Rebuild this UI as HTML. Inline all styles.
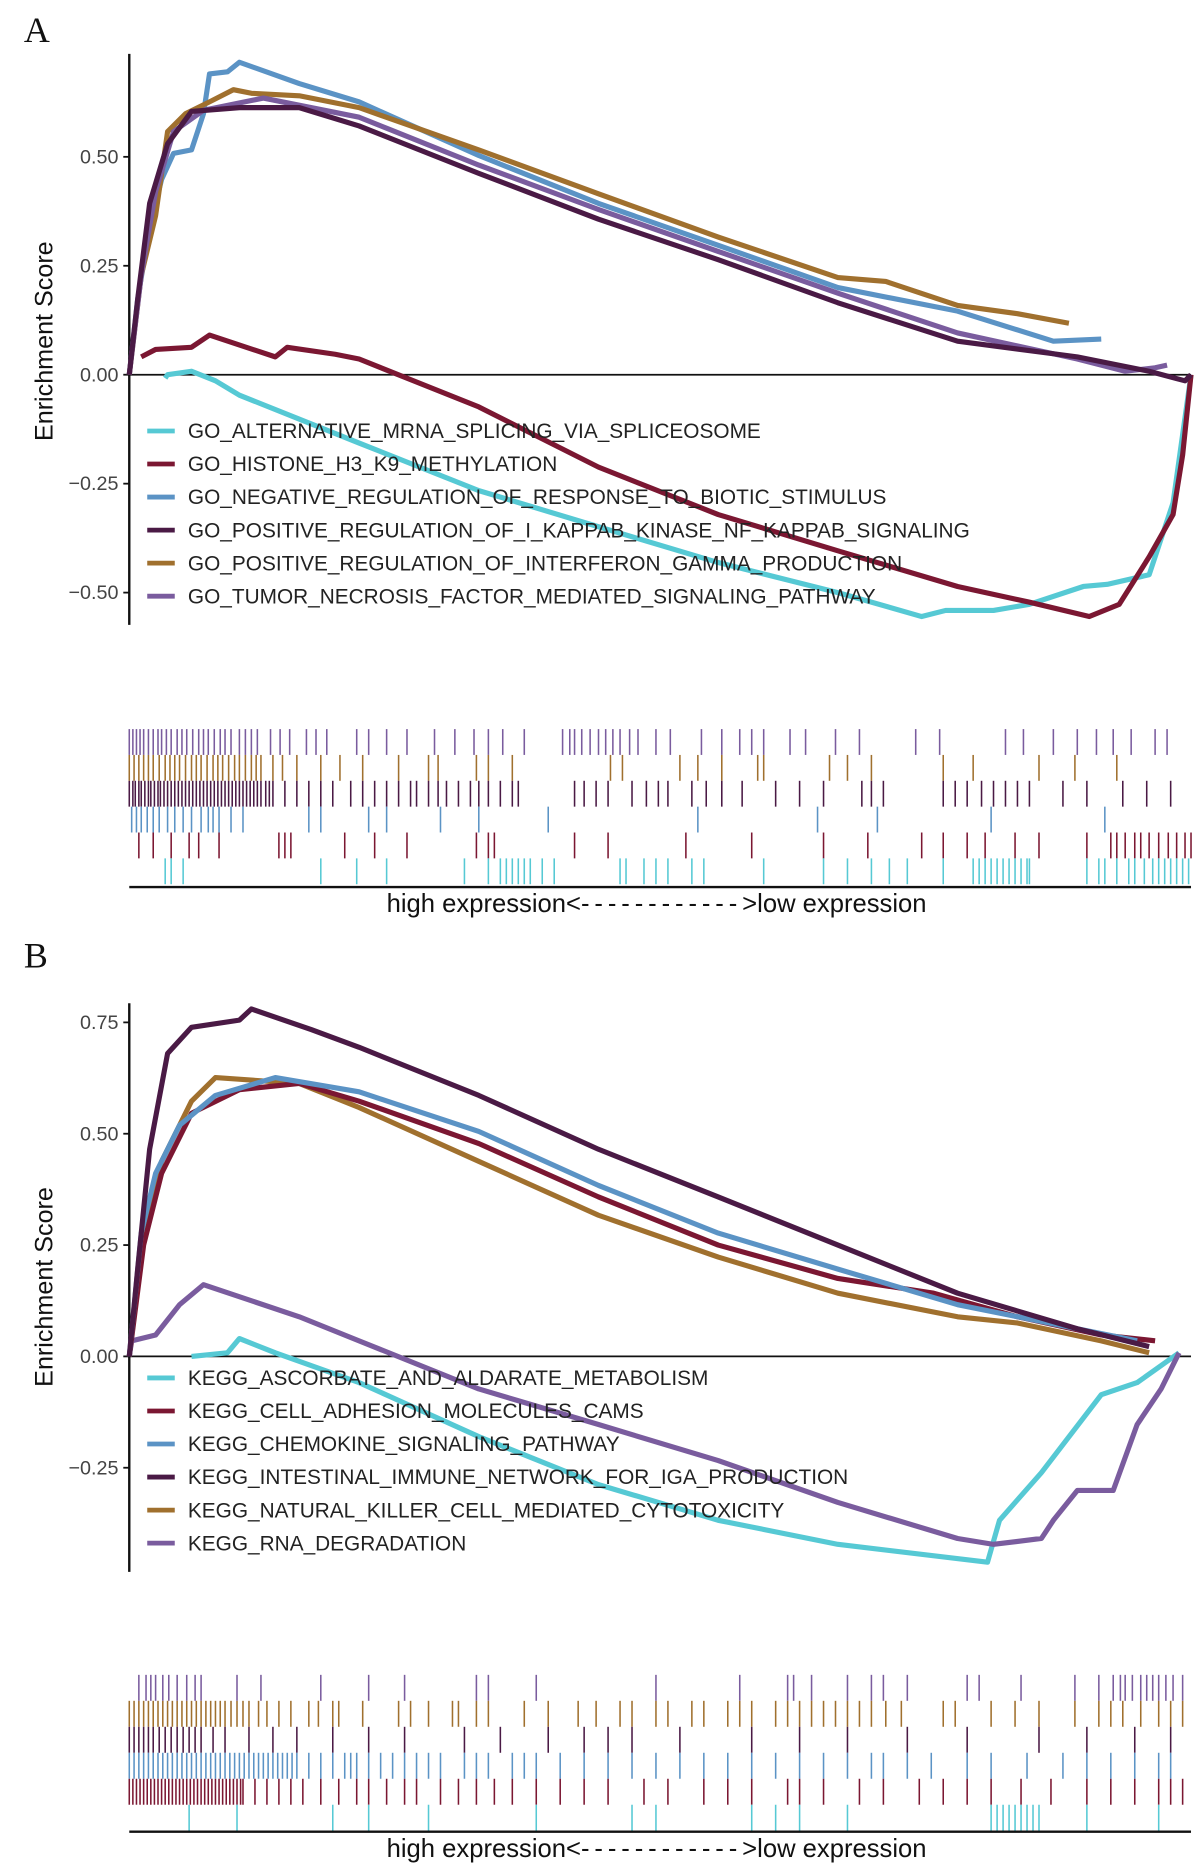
<!DOCTYPE html>
<html><head><meta charset="utf-8"><style>
html,body{margin:0;padding:0;background:#fff;}
svg{display:block;font-family:"Liberation Sans",sans-serif;}
</style></head><body>
<svg id="chart" width="1197" height="1864" viewBox="0 0 1000 1557" preserveAspectRatio="none" xmlns="http://www.w3.org/2000/svg"></svg>
<script>
// ---------- Panel A data (rank 0..887, enrichment score) ----------
const aBlueX=[0,7,17,27,37,52,62,67,82,92,142,192,292,392,492,592,692,772,812];
const aBlueY=[0,0.173,0.338,0.448,0.508,0.516,0.599,0.690,0.695,0.717,0.668,0.626,0.503,0.393,0.297,0.2,0.146,0.077,0.082];
const aBrownX=[0,10,22,32,47,67,87,102,142,192,292,392,492,592,632,692,742,785];
const aBrownY=[0,0.228,0.365,0.558,0.599,0.626,0.654,0.646,0.640,0.613,0.516,0.415,0.316,0.223,0.214,0.159,0.140,0.118];
const aDarkX=[0,7,17,32,52,92,142,192,292,392,492,592,692,792,852,882,887];
const aDarkY=[0,0.173,0.393,0.530,0.604,0.613,0.613,0.571,0.462,0.357,0.264,0.165,0.077,0.041,0.008,-0.014,0];
const aPurpleX=[0,10,22,37,62,112,192,292,392,492,592,692,792,832,857,867];
const aPurpleY=[0,0.228,0.420,0.558,0.607,0.635,0.591,0.481,0.379,0.283,0.187,0.096,0.036,0.008,0.016,0.022];
const aRedX=[10,22,52,67,122,132,172,192,292,392,492,592,692,752,802,827,852,872,880,887];
const aRedY=[0.041,0.058,0.063,0.091,0.041,0.063,0.047,0.036,-0.074,-0.212,-0.321,-0.404,-0.486,-0.522,-0.555,-0.527,-0.418,-0.321,-0.184,0];
const aCyanX=[30,32,52,72,92,192,292,392,492,592,662,682,722,752,797,817,852,872,887];
const aCyanY=[-0.008,0,0.008,-0.014,-0.047,-0.157,-0.266,-0.349,-0.431,-0.5,-0.555,-0.541,-0.541,-0.527,-0.486,-0.481,-0.459,-0.294,0];
const aLabels=["GO_ALTERNATIVE_MRNA_SPLICING_VIA_SPLICEOSOME","GO_HISTONE_H3_K9_METHYLATION","GO_NEGATIVE_REGULATION_OF_RESPONSE_TO_BIOTIC_STIMULUS","GO_POSITIVE_REGULATION_OF_I_KAPPAB_KINASE_NF_KAPPAB_SIGNALING","GO_POSITIVE_REGULATION_OF_INTERFERON_GAMMA_PRODUCTION","GO_TUMOR_NECROSIS_FACTOR_MEDIATED_SIGNALING_PATHWAY"];
const aTicks=[0.5,0.25,0,-0.25,-0.5];
const aHitPurple=[0,3,6,9,12,16,20,24,27,31,35,40,44,48,53,58,62,66,71,76,80,85,92,97,102,107,118,126,134,148,156,165,190,200,215,232,255,272,288,300,312,330,362,368,372,378,385,392,398,404,410,418,425,440,452,478,495,510,520,530,552,565,590,610,657,677,732,747,772,792,808,822,837,857,867];
const aHitBrown=[0,4,8,12,16,20,25,30,34,38,42,47,52,56,60,65,70,74,78,83,88,92,97,102,106,110,120,128,140,160,176,195,225,250,258,290,300,320,402,412,460,475,495,525,530,585,600,620,680,705,760,790,825];
const aHitDark=[0,3,5,8,10,13,16,18,21,24,26,29,32,35,38,41,44,47,50,53,56,59,62,65,68,71,74,77,80,83,86,89,92,95,98,101,104,107,110,114,117,120,130,140,150,160,170,185,195,205,215,225,235,240,250,258,265,275,285,292,300,310,320,325,372,380,390,400,420,432,442,450,470,482,495,512,540,560,580,612,620,630,680,690,700,712,722,732,742,752,780,800,830,850,870];
const aHitBlue=[2,6,10,15,20,25,32,38,45,52,60,66,70,75,85,95,150,160,200,215,260,292,350,475,575,625,720,815];
const aHitRed=[8,20,35,50,58,75,125,130,135,180,205,232,290,300,305,372,400,465,520,580,617,662,680,700,715,740,760,800,820,825,832,840,845,852,860,868,875,882,887];
const aHitCyan=[30,35,45,160,190,215,280,300,310,315,320,325,330,335,345,355,410,415,430,440,450,470,480,530,580,600,620,635,650,680,705,710,715,720,725,730,735,740,745,750,752,800,810,815,825,835,840,848,855,860,865,870,875,880,885];

// ---------- Panel B data ----------
const bDarkX=[0,7,17,32,52,92,102,152,192,292,392,492,592,692,792,852];
const bDarkY=[0,0.196,0.465,0.680,0.739,0.755,0.780,0.734,0.694,0.586,0.465,0.358,0.25,0.142,0.062,0.022];
const bBrownX=[0,12,27,52,72,142,192,292,392,492,592,692,742,812,852];
const bBrownY=[0,0.277,0.438,0.573,0.626,0.613,0.559,0.438,0.317,0.223,0.142,0.089,0.075,0.035,0.008];
const bRedX=[0,12,27,52,92,142,192,292,392,492,592,672,742,812,857];
const bRedY=[0,0.25,0.411,0.546,0.599,0.613,0.573,0.478,0.358,0.25,0.175,0.142,0.089,0.048,0.035];
const bBlueX=[0,10,22,42,72,122,192,292,392,492,592,692,792,842];
const bBlueY=[0,0.277,0.411,0.519,0.586,0.626,0.594,0.505,0.384,0.277,0.196,0.116,0.062,0.035];
const bPurpleX=[0,2,22,42,62,142,192,292,392,492,592,692,722,762,772,792,822,842,862,877];
const bPurpleY=[0,0.035,0.048,0.116,0.161,0.089,0.035,-0.073,-0.153,-0.234,-0.328,-0.409,-0.422,-0.409,-0.368,-0.301,-0.301,-0.153,-0.073,0.008];
const bCyanX=[52,82,92,122,192,292,392,492,592,717,727,762,812,842,877];
const bCyanY=[0,0.008,0.040,0.008,-0.059,-0.180,-0.288,-0.368,-0.422,-0.462,-0.368,-0.261,-0.086,-0.059,0.008];
const bLabels=["KEGG_ASCORBATE_AND_ALDARATE_METABOLISM","KEGG_CELL_ADHESION_MOLECULES_CAMS","KEGG_CHEMOKINE_SIGNALING_PATHWAY","KEGG_INTESTINAL_IMMUNE_NETWORK_FOR_IGA_PRODUCTION","KEGG_NATURAL_KILLER_CELL_MEDIATED_CYTOTOXICITY","KEGG_RNA_DEGRADATION"];
const bTicks=[0.75,0.5,0.25,0,-0.25];
const bHitPurple=[8,14,18,22,28,33,40,48,55,60,90,110,160,200,230,290,300,340,440,510,550,555,570,600,620,630,650,700,710,745,790,810,822,828,832,838,845,850,855,860,866,872,880];
const bHitBrown=[0,4,8,12,16,20,24,28,32,36,40,44,48,52,56,60,64,68,72,76,80,85,90,95,100,108,115,125,135,150,158,170,175,195,225,235,250,270,275,290,300,330,350,375,390,410,420,440,450,470,480,500,510,520,540,550,560,570,580,590,600,610,620,632,645,680,690,720,740,760,790,810,820,830,845,860,870,880];
const bHitDark=[0,4,8,12,16,20,25,30,35,40,45,50,55,60,70,80,100,120,140,170,200,230,280,310,350,380,400,420,460,520,560,600,650,700,760,800,840,870];
const bHitBlue=[0,4,8,12,16,20,24,28,32,36,40,44,48,52,56,60,64,68,72,76,80,84,88,92,96,100,104,108,112,116,120,124,128,132,136,140,150,160,170,180,185,190,200,210,220,230,240,250,260,280,290,300,320,330,340,360,380,400,420,440,460,480,500,520,540,560,580,600,620,630,650,670,700,720,750,780,800,820,840,860,870];
const bHitRed=[0,3,6,9,12,15,18,21,24,27,30,33,36,39,42,45,48,51,54,57,60,63,66,69,72,75,78,81,84,87,90,93,95,105,115,125,135,145,160,175,190,200,215,230,240,260,275,290,305,320,340,360,380,400,430,450,480,500,520,550,560,580,610,630,660,680,700,720,745,770,800,820,840,860,870,880];
const bHitCyan=[50,90,170,200,250,340,420,440,520,540,560,600,720,725,730,735,740,745,750,755,760,800,860];

const C={cyan:"#56c9d4",red:"#7b1732",blue:"#5b93c5",dark:"#4a1a45",brown:"#a0702e",purple:"#7a5c9e"};
const svg=document.getElementById('chart');
const NS="http://www.w3.org/2000/svg";
function mk(tag,attrs,parent){const e=document.createElementNS(NS,tag);for(const k in attrs)e.setAttribute(k,attrs[k]);(parent||svg).appendChild(e);return e;}
const X0=108,XW=887,RMAX=887;
function xs(r){return X0+r/RMAX*XW;}

function panel(cfg){
  const g=mk('g',{});
  
  
  const ys=v=>cfg.zeroY-v*cfg.pxPerUnit;
  const letter=mk('text',{x:20,y:cfg.letterY,'font-family':'Liberation Serif,serif','font-size':30,fill:'#111'},g);
  letter.textContent=cfg.letter;
  
  
  const ax=mk('line',{x1:X0,x2:X0,y1:cfg.axTop,y2:cfg.axBot,stroke:'#111','stroke-width':2},g);
  
  
  cfg.ticks.forEach(t=>{
    const y=ys(t);
    const tk=mk('line',{x1:X0-5,x2:X0,y1:y,y2:y,stroke:'#111','stroke-width':1.5},g);
    
    
    const tl=mk('text',{x:X0-9,y:y+5.5,'text-anchor':'end','font-size':16.5,fill:'#444'},g);
    tl.textContent=(t<0?'\u2212':'')+Math.abs(t).toFixed(2);
    
    
  });
  const ttl=mk('text',{x:0,y:0,'text-anchor':'middle','font-size':21,fill:'#111',transform:`translate(44,${cfg.titleY}) rotate(-90)`},g);
  ttl.textContent='Enrichment Score';
  
  
  const zl=mk('line',{x1:X0,x2:X0+XW,y1:ys(0),y2:ys(0),stroke:'#111','stroke-width':1.5},g);
  
  
  cfg.series.forEach(s=>{
    const d=s.x.map((r,i)=>(i?'L':'M')+xs(r).toFixed(1)+','+ys(s.y[i]).toFixed(1)).join(' ');
    const p=mk('path',{d:d,fill:'none',stroke:s.c,'stroke-width':4.3,'stroke-linejoin':'round'},g);
    
    
  });
  cfg.labels.forEach((lab,i)=>{
    const y=cfg.legY+i*27.6;
    const sw=mk('line',{x1:123,x2:146,y1:y,y2:y,stroke:cfg.legColors[i],'stroke-width':4},g);
    
    
    const tx=mk('text',{x:157,y:y+6,'font-size':17.4,fill:'#222'},g);
    tx.textContent=lab;
    
    
  });
  cfg.rug.forEach((row,i)=>{
    const y1=cfg.rugTop+i*cfg.rugH, y2=y1+cfg.rugH;
    row.h.forEach(r=>{
      const l=mk('line',{x1:xs(r),x2:xs(r),y1:y1,y2:y2,stroke:row.c,'stroke-width':1.3},g);
      
      
    });
  });
  const bl=mk('line',{x1:X0,x2:X0+XW,y1:cfg.rugBase,y2:cfg.rugBase,stroke:'#111','stroke-width':2},g);
  
  
  const xt=mk('text',{x:323,y:cfg.rugBase+21,'font-size':21.4,fill:'#111'},g);
  
  
  const t1=mk('tspan',{},xt); t1.textContent='high expression<';
  const t2=mk('tspan',{'letter-spacing':4.1},xt); t2.textContent='------------';
  const t3=mk('tspan',{},xt); t3.textContent='>low expression';
}

panel({name:'panel-a',letter:'A',letterY:35,axTop:45,axBot:522,zeroY:313,pxPerUnit:364,ticks:aTicks,titleY:285,
  series:[{k:'cyan',x:aCyanX,y:aCyanY,c:C.cyan},{k:'red',x:aRedX,y:aRedY,c:C.red},{k:'blue',x:aBlueX,y:aBlueY,c:C.blue},{k:'brown',x:aBrownX,y:aBrownY,c:C.brown},{k:'purple',x:aPurpleX,y:aPurpleY,c:C.purple},{k:'dark',x:aDarkX,y:aDarkY,c:C.dark}],
  labels:aLabels,legY:360,legColors:[C.cyan,C.red,C.blue,C.dark,C.brown,C.purple],
  rugTop:609,rugH:21.6,rugBase:741,
  rug:[{h:aHitPurple,c:C.purple},{h:aHitBrown,c:C.brown},{h:aHitDark,c:C.dark},{h:aHitBlue,c:C.blue},{h:aHitRed,c:C.red},{h:aHitCyan,c:C.cyan}]});

panel({name:'panel-b',letter:'B',letterY:808,axTop:838,axBot:1313,zeroY:1133,pxPerUnit:372,ticks:bTicks,titleY:1075,
  series:[{k:'cyan',x:bCyanX,y:bCyanY,c:C.cyan},{k:'purple',x:bPurpleX,y:bPurpleY,c:C.purple},{k:'brown',x:bBrownX,y:bBrownY,c:C.brown},{k:'red',x:bRedX,y:bRedY,c:C.red},{k:'blue',x:bBlueX,y:bBlueY,c:C.blue},{k:'dark',x:bDarkX,y:bDarkY,c:C.dark}],
  labels:bLabels,legY:1151,legColors:[C.cyan,C.red,C.blue,C.dark,C.brown,C.purple],
  rugTop:1399,rugH:21.7,rugBase:1530,
  rug:[{h:bHitPurple,c:C.purple},{h:bHitBrown,c:C.brown},{h:bHitDark,c:C.dark},{h:bHitBlue,c:C.blue},{h:bHitRed,c:C.red},{h:bHitCyan,c:C.cyan}]});
</script>
</body></html>
